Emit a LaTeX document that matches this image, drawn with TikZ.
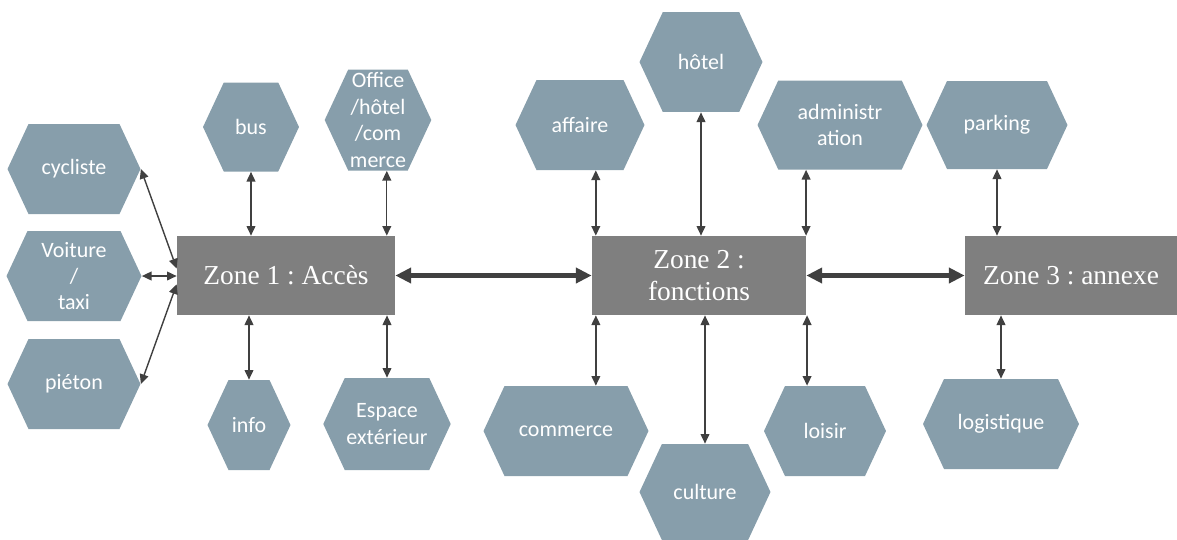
\documentclass[tikz,border=0pt]{standalone}
\usepackage{fontspec}
\setmainfont{Liberation Serif}
\newfontfamily\hexfont{Carlito}
\usetikzlibrary{arrows.meta,shapes.symbols}
\definecolor{hexblue}{HTML}{879EAB}
\definecolor{zonegray}{HTML}{7F7F7F}
\definecolor{linkgray}{HTML}{404040}
\frenchspacing

\begin{document}
\begin{tikzpicture}[x=0.02cm, y=-0.02cm,
    hexa/.style={signal, signal to=east and west, signal pointer angle=130, fill=hexblue, draw=none, text=white, font=\hexfont\fontsize{12.5}{15}\selectfont, align=center, inner sep=1pt, minimum height=1.8cm},
    zone/.style={rectangle, fill=zonegray, text=white, font=\fontsize{15.6}{18.5}\selectfont, align=center, minimum height=1.58cm},
    link/.style={linkgray, line width=0.8pt, {Triangle[length=5.5pt,width=5pt]}-{Triangle[length=5.5pt,width=5pt]}},
    bigl/.style={linkgray, line width=2.3pt, {Triangle[length=9pt,width=8.5pt]}-{Triangle[length=9pt,width=8.5pt]}}
]
\useasboundingbox (0,0) rectangle (1177,539);
% zones
\node[zone, minimum width=4.36cm] (z1) at (286,275.5) {Zone 1 : Accès};
\node[zone, minimum width=4.28cm] (z2) at (699,275.5) {Zone 2 :\\fonctions};
\node[zone, minimum width=4.24cm] (z3) at (1071,275.5) {Zone 3 : annexe};
% zone 1
\node[hexa, minimum width=2.66cm] (cyc) at (74,169) {cycliste};
\node[hexa, minimum width=2.7cm] (voit) at (74,276) {Voiture\\/\\taxi};
\node[hexa, minimum width=2.66cm] (piet) at (74,384) {piéton};
\node[hexa, minimum width=1.92cm, minimum height=1.78cm] (bus) at (251,127) {bus};
\node[hexa, minimum width=2.08cm, minimum height=2.02cm] (off) at (378,120) {Office\\/hôtel\\/com\\merce};
\node[hexa, minimum width=1.66cm] (info) at (249,425) {info};
\node[hexa, minimum width=2.4cm, minimum height=1.84cm] (esp) at (387,424) {Espace\\extérieur};
% zone 2
\node[hexa, minimum width=2.58cm] (aff) at (580,125) {affaire};
\node[hexa, minimum width=2.46cm, minimum height=2cm] (hot) at (701,62) {hôtel};
\node[hexa, minimum width=3.3cm, minimum height=1.78cm] (adm) at (840,125) {administr\\ation};
\node[hexa, minimum width=3.3cm] (com) at (566,431) {commerce};
\node[hexa, minimum width=2.62cm, minimum height=1.92cm] (cult) at (705,492) {culture};
\node[hexa, minimum width=2.44cm] (lois) at (825,431) {loisir};
% zone 3
\node[hexa, minimum width=2.82cm, minimum height=1.76cm] (park) at (997,125) {parking};
\node[hexa, minimum width=3.12cm] (logi) at (1001,424) {logistique};
% free ends
\coordinate (o1) at ([xshift=5pt]off.south);
\coordinate (a1) at ([xshift=9pt]aff.south);
\coordinate (d1) at ([xshift=-19.3pt]adm.south);
\coordinate (c1) at ([xshift=17pt]com.north);
\coordinate (l1) at ([xshift=-10.2pt]lois.north);
% links
\draw[link] (cyc.east) -- ([yshift=4pt]z1.west);
\draw[link] (voit.east) -- (voit.east -| z1.west);
\draw[link] (piet.east) -- ([yshift=-5pt]z1.west);
\draw[link] (bus.south) -- (bus.south |- z1.north);
\draw[link] (o1) -- (o1 |- z1.north);
\draw[link] (info.north) -- (info.north |- z1.south);
\draw[link] (esp.north) -- (esp.north |- z1.south);
\draw[link] (a1) -- (a1 |- z2.north);
\draw[link] (hot.south) -- (hot.south |- z2.north);
\draw[link] (d1) -- (d1 |- z2.north);
\draw[link] (c1) -- (c1 |- z2.south);
\draw[link] (cult.north) -- (cult.north |- z2.south);
\draw[link] (l1) -- (l1 |- z2.south);
\draw[link] (park.south) -- (park.south |- z3.north);
\draw[link] (logi.north) -- (logi.north |- z3.south);
\draw[bigl] (z1.east) -- (z2.west);
\draw[bigl] (z2.east) -- (z3.west);
\end{tikzpicture}
\end{document}
